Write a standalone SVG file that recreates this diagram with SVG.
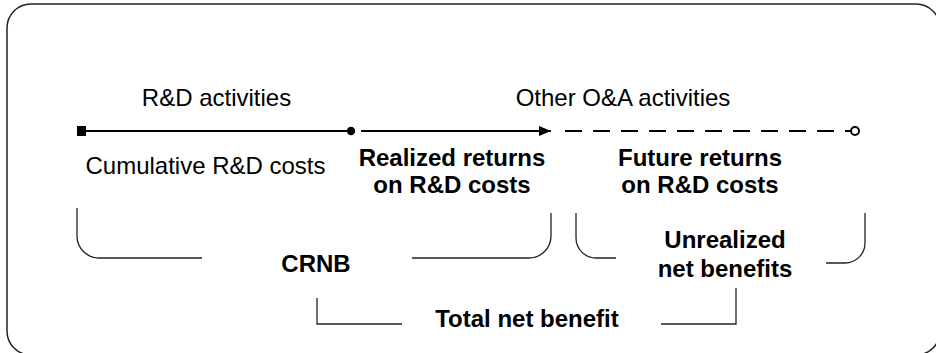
<svg xmlns="http://www.w3.org/2000/svg" width="936" height="353" viewBox="0 0 936 353">
  <style>
    .t { font-family: "Liberation Sans", Arial, sans-serif; font-size: 24px; fill: #000; text-anchor: middle; }
    .b { font-weight: bold; }
    .br { fill: none; stroke: #222; stroke-width: 1.3; }
    .ln { fill: none; stroke: #000; stroke-width: 2; }
  </style>
  <defs>
    <marker id="arrow" viewBox="0 0 12 10" refX="12" refY="5" markerWidth="12" markerHeight="10" markerUnits="userSpaceOnUse" orient="auto">
      <path d="M0,0 L12,5 L0,10 Z" fill="#000"/>
    </marker>
  </defs>
  <rect id="frame" x="7" y="4" width="933" height="351" rx="24" ry="24" fill="#fff" stroke="#222" stroke-width="1.5"/>

  <g id="connectors">
    <rect x="77" y="126" width="9" height="10" fill="#000"/>
    <line class="ln" x1="86" y1="131" x2="348" y2="131"/>
    <circle cx="351" cy="131" r="4.2" fill="#000"/>
    <line class="ln" x1="361" y1="131" x2="551" y2="131" marker-end="url(#arrow)"/>
    <line class="ln" x1="565" y1="131" x2="851" y2="131" stroke-dasharray="17 11"/>
    <circle cx="855" cy="131" r="4" fill="#fff" stroke="#000" stroke-width="2"/>
  </g>

  <g id="rd-activities"><text class="t" x="216.5" y="106">R&amp;D activities</text></g>
  <g id="other-activities"><text class="t" x="623" y="106">Other O&amp;A activities</text></g>
  <g id="cumulative-costs"><text class="t" x="205.5" y="174">Cumulative R&amp;D costs</text></g>
  <g id="realized-returns">
    <text class="t b" x="452" y="166">Realized returns</text>
    <text class="t b" x="452" y="193">on R&amp;D costs</text>
  </g>
  <g id="future-returns">
    <text class="t b" x="700" y="166">Future returns</text>
    <text class="t b" x="700" y="193">on R&amp;D costs</text>
  </g>

  <g id="crnb">
    <path class="br" d="M77,208 V236 A22,22 0 0 0 99,258 H202"/>
    <path class="br" d="M412,258 H529 A22,22 0 0 0 551,236 V213"/>
    <text class="t b" x="316" y="272">CRNB</text>
  </g>
  <g id="unrealized">
    <path class="br" d="M576,213 V238 A20,20 0 0 0 596,258 H616"/>
    <path class="br" d="M826,263 H845 A20,20 0 0 0 865,243 V213"/>
    <text class="t b" x="725" y="248">Unrealized</text>
    <text class="t b" x="725" y="277">net benefits</text>
  </g>
  <g id="total">
    <path class="br" d="M317,298 V324 H402"/>
    <path class="br" d="M661,324 H736 V288"/>
    <text class="t b" x="527" y="327">Total net benefit</text>
  </g>
</svg>
